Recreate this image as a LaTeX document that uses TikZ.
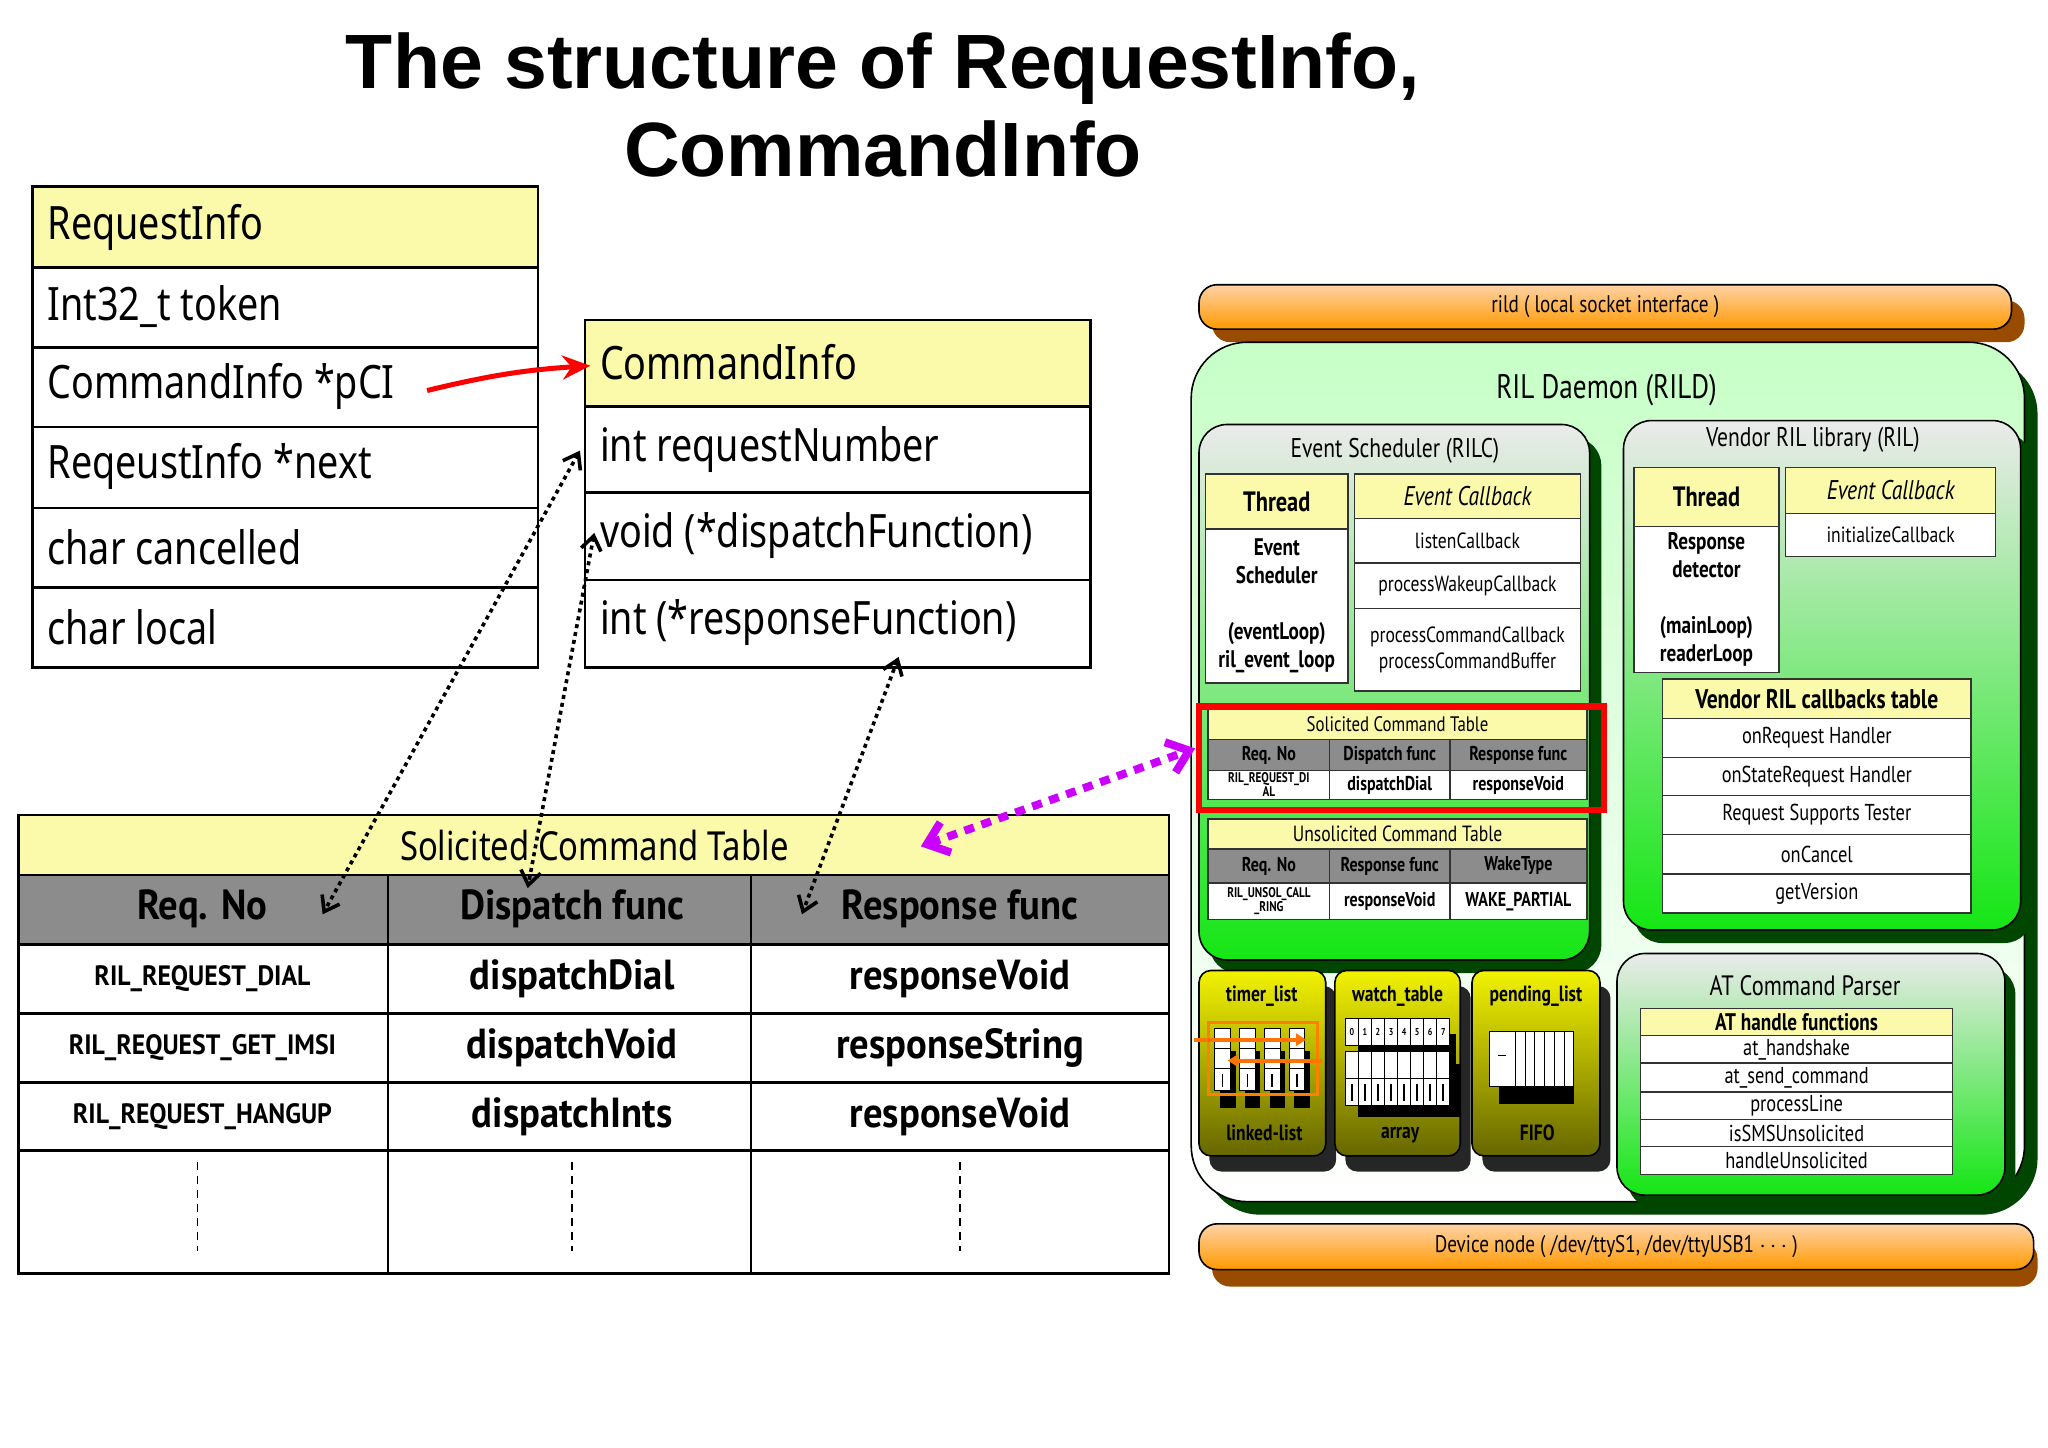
\documentclass[tikz,border=0pt]{standalone}
\usepackage{fontspec}
\setmainfont{Noto Sans}
\newfontfamily\ttl{Liberation Sans}
\newfontfamily\cnd{Noto Sans}[FakeStretch=0.82]
\newfontfamily\cbd{PT Sans}[FakeStretch=0.92]
\newfontfamily\rc{PT Sans}[FakeStretch=0.8]
\usetikzlibrary{arrows.meta}
\definecolor{ylw}{RGB}{250,250,170}
\definecolor{gry}{RGB}{140,140,140}
\definecolor{dgreen}{RGB}{0,70,0}
\definecolor{brt}{RGB}{20,230,20}
\definecolor{mag}{RGB}{204,0,255}
\newcommand\cbox[8]{\draw[#6] (#2,#3) rectangle (#4,#5) node[pos=.5,font=#7,align=center,inner sep=0pt] (#1) {#8};}
\begin{document}
\begin{tikzpicture}[x=0.653pt,y=-0.653pt,
  lt/.style={draw=black,line width=1.3pt},
  ct/.style={draw=black!80,line width=0.7pt},
  dotarr/.style={line width=1.8pt,dash pattern=on 2pt off 2pt,{Straight Barb[length=7pt,width=10pt]}-{Straight Barb[length=7pt,width=10pt]}},
  grn/.style={rounded corners=14pt,draw=black,line width=0.8pt,top color=black!8,bottom color=brt},
  shd/.style={rounded corners=14pt,fill=dgreen},
  lst/.style={rounded corners=6pt,draw=black,line width=0.8pt,top color=yellow!95!black,bottom color=olive!80!black},
  bar/.style={rounded corners=9pt,draw=black,line width=0.8pt,top color=orange!35,bottom color=orange!80!yellow}]
\useasboundingbox (0,0) rectangle (1568,1108);
\fill[white] (0,0) rectangle (1568,1108);
% title
\node[font=\ttl\bfseries\fontsize{38.5}{44}\selectfont,align=center] (title) at (676,80) {The structure of RequestInfo,\\CommandInfo};
\tikzset{lf/.style={anchor=west,font=\cnd\fontsize{23}{26}\selectfont}}
% RequestInfo
\draw[lt,fill=ylw] (25,143) rectangle (412,205);
\foreach \a/\b in {205/266,266/327,327/389,389/450,450/511}{\draw[lt,fill=white] (25,\a) rectangle (412,\b);}
\node[lf] (r0) at (31,174) {RequestInfo};
\node[lf] (r1) at (31,235) {Int32\_t token};
\node[lf] (r2) at (31,296) {CommandInfo *pCI};
\node[lf] (r3) at (31,357) {ReqeustInfo *next};
\node[lf] (r4) at (31,419) {char cancelled};
\node[lf] (r5) at (31,480) {char local};
% CommandInfo
\draw[lt,fill=ylw] (448,245) rectangle (835,311);
\foreach \a/\b in {311/377,377/444,444/511}{\draw[lt,fill=white] (448,\a) rectangle (835,\b);}
\node[lf] (c0) at (454,277) {CommandInfo};
\node[lf] (c1) at (454,344) {int requestNumber};
\node[lf] (c2) at (454,410) {void (*dispatchFunction)};
\node[lf] (c3) at (454,477) {int (*responseFunction)};
\coordinate (ra) at (327,299);
\coordinate (rb) at (452,280);
\draw[red,line width=2.5pt,-{Stealth[length=14pt,width=12pt]}] (ra) to[bend left=5] (rb);
% big solicited table
\draw[lt,fill=ylw] (14,624) rectangle (895,670);
\node[font=\cnd\fontsize{20}{22}\selectfont] (st) at (455,647) {Solicited Command Table};
\tikzset{bh/.style={font=\cbd\bfseries\fontsize{21}{23}\selectfont},bs/.style={font=\cbd\bfseries\fontsize{14}{16}\selectfont}}
\foreach \x/\X in {14/297,297/575,575/895}{
  \draw[lt,fill=gry] (\x,670) rectangle (\X,723);
  \foreach \a/\b in {723/776,776/829,829/881,881/975}{\draw[lt,fill=white] (\x,\a) rectangle (\X,\b);}
  }
\node[bh] (h1) at (155,696) {Req. No};
\node[bh] (h2) at (438,696) {Dispatch func};
\node[bh] (h3) at (735,696) {Response func};
\node[bs] (a1) at (155,749) {RIL\_REQUEST\_DIAL};
\node[bh] (a2) at (438,749) {dispatchDial};
\node[bh] (a3) at (735,749) {responseVoid};
\node[bs] (b1) at (155,802) {RIL\_REQUEST\_GET\_IMSI};
\node[bh] (b2) at (438,802) {dispatchVoid};
\node[bh] (b3) at (735,802) {responseString};
\node[bs] (e1) at (155,855) {RIL\_REQUEST\_HANGUP};
\node[bh] (e2) at (438,855) {dispatchInts};
\node[bh] (e3) at (735,855) {responseVoid};
\foreach \x in {151,438,735}{\draw[dash pattern=on 4pt off 3pt,line width=0.7pt] (\x,890) -- (\x,958);}
% dotted arrows
\coordinate (d1a) at (444,345); \coordinate (d1b) at (247,700);
\coordinate (d2a) at (455,408); \coordinate (d2b) at (404,680);
\coordinate (d3a) at (688,503); \coordinate (d3b) at (614,700);
\draw[dotarr] (d1a) -- (d1b);
\draw[dotarr] (d2a) -- (d2b);
\draw[dotarr] (d3a) -- (d3b);
% ===== right panel =====
\tikzset{rt/.style={font=\rc\fontsize{12}{14}\selectfont},rb/.style={font=\rc\bfseries\fontsize{11}{13}\selectfont}}
\fill[rounded corners=9pt,fill=orange!60!black] (928,230) rectangle (1550,262);
\draw[bar] (918,218) rectangle (1540,252) node[pos=.5,rt] (rild) {rild ( local socket interface )};
\fill[rounded corners=28pt,fill=dgreen] (922,274) rectangle (1560,930);
\draw[rounded corners=28pt,draw=black,line width=0.8pt,top color=green!22,bottom color=white] (912,262) rectangle (1550,920);
\node[font=\rc\fontsize{17}{19}\selectfont] (rild2) at (1230,299) {RIL Daemon (RILD)};
% event scheduler
\fill[shd] (926,335) rectangle (1226,745);
\draw[grn] (918,325) rectangle (1217,735);
\node[font=\rc\fontsize{13.5}{15}\selectfont] (es) at (1068,345) {Event Scheduler (RILC)};
\cbox{th1}{923}{363}{1032}{405}{ct,fill=ylw}{\rc\bfseries\fontsize{14}{15}\selectfont}{Thread}
\cbox{tb1}{923}{405}{1032}{523}{ct,fill=white}{\rc\bfseries\fontsize{12}{14}\selectfont}{Event\\Scheduler\\[14pt](eventLoop)\\ril\_event\_loop}
\cbox{eh1}{1037}{363}{1210}{397}{ct,fill=ylw}{\rc\itshape\fontsize{13.5}{15}\selectfont}{Event Callback}
\cbox{ec1}{1037}{397}{1210}{431}{ct,fill=white}{\rc\fontsize{11}{13}\selectfont}{listenCallback}
\cbox{ec2}{1037}{431}{1210}{466}{ct,fill=white}{\rc\fontsize{11}{13}\selectfont}{processWakeupCallback}
\cbox{ec3}{1037}{466}{1210}{529}{ct,fill=white}{\rc\fontsize{11}{13}\selectfont}{processCommandCallback\\processCommandBuffer}
% small solicited
\cbox{s0}{925}{543}{1215}{566}{ct,fill=ylw}{\rc\fontsize{10.5}{11}\selectfont}{Solicited Command Table}
\cbox{s1}{925}{566}{1018}{590}{ct,fill=gry}{\rc\bfseries\fontsize{10}{11}\selectfont}{Req. No}
\cbox{s2}{1018}{566}{1110}{590}{ct,fill=gry}{\rc\bfseries\fontsize{10}{11}\selectfont}{Dispatch func}
\cbox{s3}{1110}{566}{1215}{590}{ct,fill=gry}{\rc\bfseries\fontsize{10}{11}\selectfont}{Response func}
\cbox{s4}{925}{590}{1018}{612}{ct,fill=white}{\rc\bfseries\fontsize{7}{7}\selectfont}{RIL\_REQUEST\_DI\\AL}
\cbox{s5}{1018}{590}{1110}{612}{ct,fill=white}{\rc\bfseries\fontsize{10}{11}\selectfont}{dispatchDial}
\cbox{s6}{1110}{590}{1215}{612}{ct,fill=white}{\rc\bfseries\fontsize{10}{11}\selectfont}{responseVoid}
\draw[red,line width=3.2pt] (918,541) rectangle (1228,620);
% unsolicited
\cbox{u0}{925}{627}{1215}{650}{ct,fill=ylw}{\rc\fontsize{11}{12}\selectfont}{Unsolicited Command Table}
\cbox{u1}{925}{650}{1018}{676}{ct,fill=gry}{\rc\bfseries\fontsize{10}{11}\selectfont}{Req. No}
\cbox{u2}{1018}{650}{1110}{676}{ct,fill=gry}{\rc\bfseries\fontsize{10}{11}\selectfont}{Response func}
\cbox{u3}{1110}{650}{1215}{676}{ct,fill=gry}{\rc\bfseries\fontsize{10}{11}\selectfont}{WakeType}
\cbox{u4}{925}{676}{1018}{704}{ct,fill=white}{\rc\bfseries\fontsize{7}{7}\selectfont}{RIL\_UNSOL\_CALL\\\_RING}
\cbox{u5}{1018}{676}{1110}{704}{ct,fill=white}{\rc\bfseries\fontsize{10}{11}\selectfont}{responseVoid}
\cbox{u6}{1110}{676}{1215}{704}{ct,fill=white}{\rc\bfseries\fontsize{10}{11}\selectfont}{WAKE\_PARTIAL}
% magenta arrow
\coordinate (mga) at (705,648);
\coordinate (mgb) at (915,573);
\draw[mag,line width=4pt,dash pattern=on 5pt off 4pt,{Straight Barb[length=10pt,width=16pt]}-{Straight Barb[length=10pt,width=16pt]}] (mga) -- (mgb);
% vendor
\fill[shd] (1251,332) rectangle (1556,722);
\draw[grn] (1243,322) rectangle (1547,712);
\node[font=\rc\fontsize{13.5}{15}\selectfont] (vr) at (1388,337) {Vendor RIL library (RIL)};
\cbox{th2}{1251}{358}{1362}{403}{ct,fill=ylw}{\rc\bfseries\fontsize{14}{15}\selectfont}{Thread}
\cbox{tb2}{1251}{403}{1362}{515}{ct,fill=white}{\rc\bfseries\fontsize{12}{14}\selectfont}{Response\\detector\\[14pt](mainLoop)\\readerLoop}
\cbox{eh2}{1367}{358}{1528}{393}{ct,fill=ylw}{\rc\itshape\fontsize{13.5}{15}\selectfont}{Event Callback}
\cbox{ec4}{1367}{393}{1528}{426}{ct,fill=white}{\rc\fontsize{11}{13}\selectfont}{initializeCallback}
\cbox{vt0}{1273}{520}{1509}{550}{ct,fill=ylw}{\rc\bfseries\fontsize{13.5}{15}\selectfont}{Vendor RIL callbacks table}
\cbox{vt1}{1273}{550}{1509}{580}{ct,fill=white}{\rc\fontsize{11.5}{13}\selectfont}{onRequest Handler}
\cbox{vt2}{1273}{580}{1509}{609}{ct,fill=white}{\rc\fontsize{11.5}{13}\selectfont}{onStateRequest Handler}
\cbox{vt3}{1273}{609}{1509}{639}{ct,fill=white}{\rc\fontsize{11.5}{13}\selectfont}{Request Supports Tester}
\cbox{vt4}{1273}{639}{1509}{669}{ct,fill=white}{\rc\fontsize{11.5}{13}\selectfont}{onCancel}
\cbox{vt5}{1273}{669}{1509}{699}{ct,fill=white}{\rc\fontsize{11.5}{13}\selectfont}{getVersion}
% lists
\foreach \x/\X in {918/1015,1022/1118,1127/1225}{
  \fill[rounded corners=6pt,fill=black!85] (\x+8,755) rectangle (\X+8,897);
  \draw[lst] (\x,743) rectangle (\X,885);}
\node[rb] (tl) at (966,763) {timer\_list};
\node[rb] (ll) at (968,867) {linked-list};
\node[rb] (wt) at (1070,763) {watch\_table};
\node[rb] (ar) at (1072,869) {array};
\node[rb] (pl) at (1176,763) {pending\_list};
\node[rb] (ff) at (1177,867) {FIFO};
% timer internals
\foreach \i in {0,...,3}{
  \fill[black] (934+\i*19,805) rectangle (946+\i*19,848);
  \foreach \a/\b in {787/803,803/818,818/835}{\draw[fill=white,line width=0.4pt] (930+\i*19,\a) rectangle (942+\i*19,\b);}
  \draw[line width=0.8pt] (936+\i*19,822) -- (936+\i*19,832);}
\draw[orange,line width=1.5pt] (925,783) rectangle (1009,838);
\draw[orange!90!red,line width=2pt,-{Triangle[length=5pt,width=6pt]}] (914,796) -- (1000,796);
\draw[orange!90!red,line width=2pt,-{Triangle[length=5pt,width=6pt]}] (1012,812) -- (940,812);
% watch internals
\fill[black] (1040,792) rectangle (1115,815);
\fill[black] (1040,815) rectangle (1118,855);
\foreach \i in {0,...,7}{
  \draw[fill=white,line width=0.4pt] (1030+\i*10,780) rectangle (1040+\i*10,800);
  \node[font=\rc\bfseries\fontsize{5}{5}\selectfont,inner sep=0pt] (wd\i) at (1035+\i*10,790) {\i};
  \draw[fill=white,line width=0.4pt] (1030+\i*10,805) rectangle (1040+\i*10,826);
  \draw[fill=white,line width=0.4pt] (1030+\i*10,826) rectangle (1040+\i*10,846);
  \draw[line width=0.8pt] (1035+\i*10,830) -- (1035+\i*10,843);}
% pending internals
\fill[black] (1148,806) rectangle (1205,845);
\draw[fill=white,line width=0.4pt] (1140,790) rectangle (1160,832);
\foreach \i in {0,...,5}{\draw[fill=white,line width=0.4pt] (1160+\i*7.5,790) rectangle (1167.5+\i*7.5,832);}
\draw (1147,808) -- (1153,808);
% AT parser
\fill[shd] (1246,740) rectangle (1543,925);
\draw[grn] (1238,730) rectangle (1535,915);
\node[font=\rc\fontsize{14}{16}\selectfont] (atp) at (1382,755) {AT Command Parser};
\cbox{at0}{1256}{772}{1495}{793}{ct,fill=ylw}{\rc\bfseries\fontsize{12}{13}\selectfont}{AT handle functions}
\cbox{at1}{1256}{793}{1495}{814}{ct,fill=white}{\rc\fontsize{11.5}{12}\selectfont}{at\_handshake}
\cbox{at2}{1256}{814}{1495}{836}{ct,fill=white}{\rc\fontsize{11.5}{12}\selectfont}{at\_send\_command}
\cbox{at3}{1256}{836}{1495}{857}{ct,fill=white}{\rc\fontsize{11.5}{12}\selectfont}{processLine}
\cbox{at4}{1256}{857}{1495}{878}{ct,fill=white}{\rc\fontsize{11.5}{12}\selectfont}{isSMSUnsolicited}
\cbox{at5}{1256}{878}{1495}{899}{ct,fill=white}{\rc\fontsize{11.5}{12}\selectfont}{handleUnsolicited}
% device node
\fill[rounded corners=9pt,fill=orange!60!black] (928,950) rectangle (1560,985);
\draw[bar] (918,937) rectangle (1557,972) node[pos=.5,rt] (dev) {Device node ( /dev/ttyS1, /dev/ttyUSB1 $\cdots$ )};
\end{tikzpicture}
\end{document}
